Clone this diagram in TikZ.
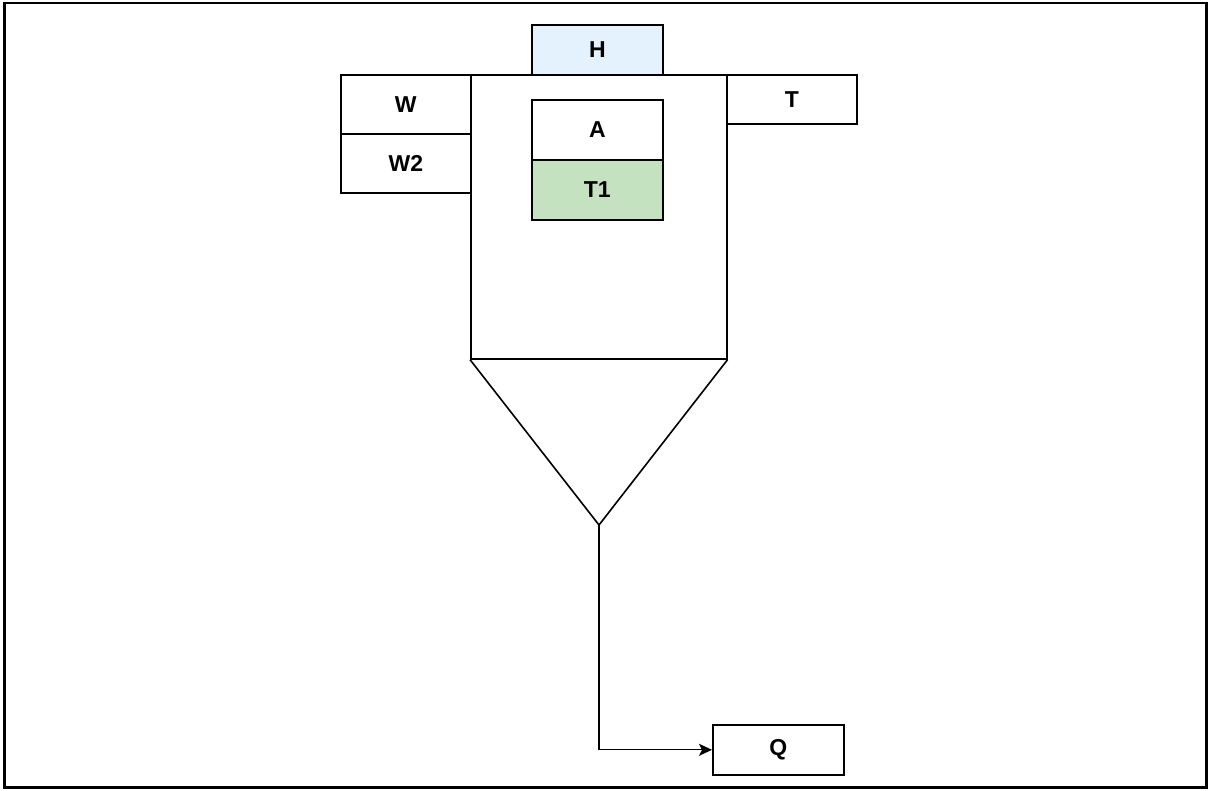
\documentclass[tikz,border=0pt]{standalone}
\usepackage{fontspec}
\setmainfont{Liberation Sans}
\usetikzlibrary{arrows.meta}
\definecolor{hblue}{RGB}{227,242,253}
\definecolor{tgreen}{RGB}{196,225,192}
\begin{document}
\begin{tikzpicture}[x=1pt,y=-1pt,
  box/.style={draw=black, line width=1.6pt, inner sep=0pt, anchor=north west,
    font=\fontsize{23}{26}\selectfont\bfseries, text=black},
  conn/.style={draw=black, line width=1.2pt, -{Stealth[length=13pt,width=12pt,inset=3pt]}}]
\useasboundingbox (0,0) rectangle (1209,790);
\draw[line width=2.6pt] (4.5,3) rectangle (1206.5,787.5);
% body
\node[box, minimum width=256pt, minimum height=284pt] (body) at (470,74) {};
\draw[line width=1.6pt, line join=miter] (body.south west) -- (599,525) -- (body.south east);
\coordinate (apex) at (599,525);
% top box
\node[box, fill=hblue, minimum width=131pt, minimum height=50pt] (H) at (531,24) {H};
% left boxes
\node[box, minimum width=130pt, minimum height=59pt] (W) at (340,74) {W};
\node[box, minimum width=130pt, minimum height=59pt] (W2) at (340,133) {W2};
% right box
\node[box, minimum width=130pt, minimum height=49pt] (T) at (726,74) {T};
% inner boxes
\node[box, minimum width=131pt, minimum height=60pt] (A) at (531,99) {A};
\node[box, fill=tgreen, minimum width=131pt, minimum height=60pt] (T1) at (531,159) {T1};
% output
\node[box, minimum width=131pt, minimum height=50pt] (Q) at (712,724) {Q};
\draw[conn] (apex) |- (Q.west);
\end{tikzpicture}
\end{document}
